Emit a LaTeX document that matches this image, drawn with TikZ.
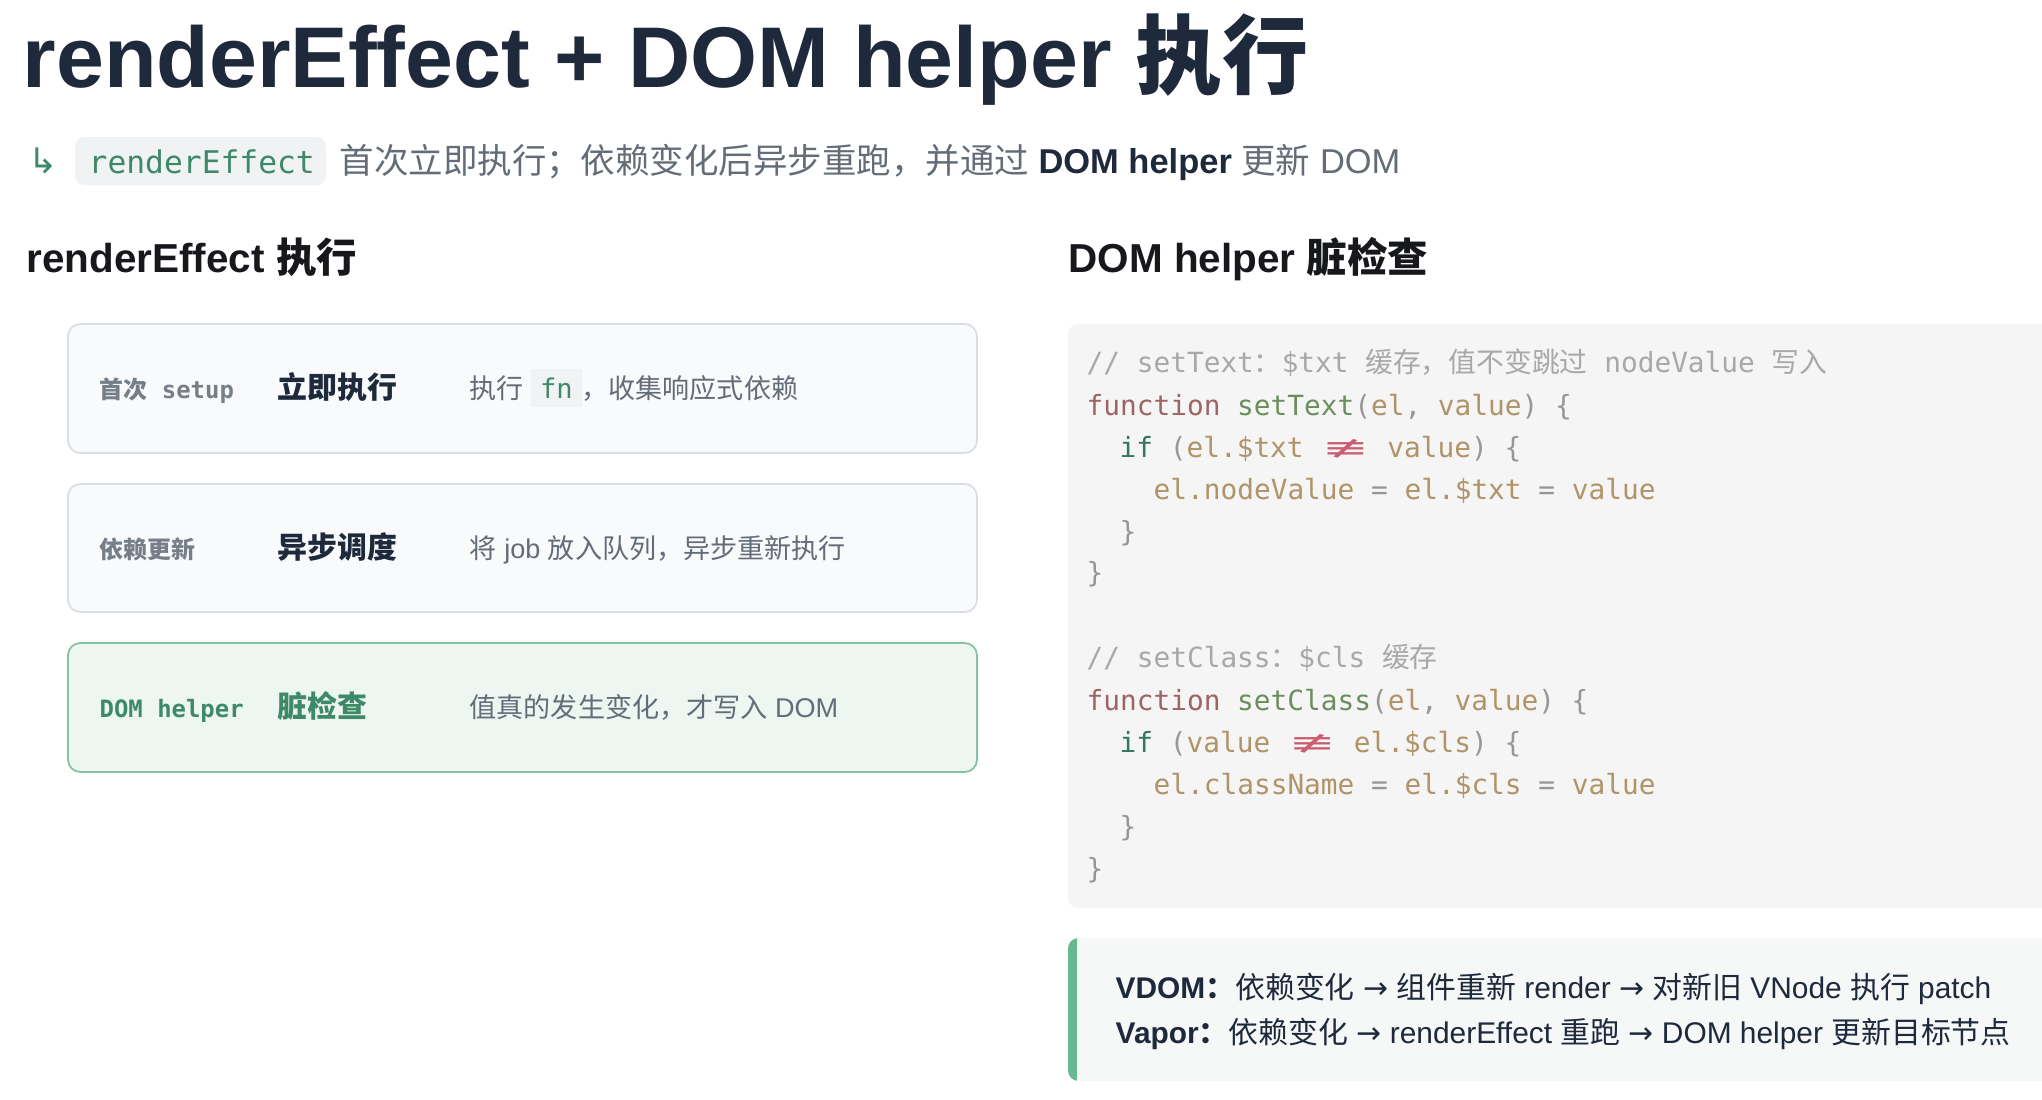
\documentclass[tikz,border=0pt]{standalone}
\usepackage{fontspec}
\setmainfont{Liberation Sans}
\setmonofont{DejaVu Sans Mono}
\newfontfamily\zhfont{Noto Sans CJK SC}
\newfontfamily\symf{DejaVu Sans}
\usepackage{tikz}
\usetikzlibrary{positioning}

\definecolor{TitleInk}{RGB}{30,41,59}
\definecolor{HeadInk}{RGB}{22,24,28}
\definecolor{MutedInk}{RGB}{100,108,120}
\definecolor{LabelInk}{RGB}{118,126,136}
\definecolor{VueGreen}{RGB}{62,138,104}
\definecolor{CardFill}{RGB}{248,250,252}
\definecolor{CardLine}{RGB}{218,222,227}
\definecolor{HotFill}{RGB}{237,246,241}
\definecolor{HotLine}{RGB}{132,194,162}
\definecolor{CodeFill}{RGB}{245,245,245}
\definecolor{PillFill}{RGB}{240,242,243}
\definecolor{NoteFill}{RGB}{246,247,247}
\definecolor{NoteBar}{RGB}{104,184,145}
\definecolor{CodeCmt}{RGB}{168,168,168}
\definecolor{CodeKw}{RGB}{158,100,100}
\definecolor{CodeFn}{RGB}{108,142,92}
\definecolor{CodeVar}{RGB}{176,148,104}
\definecolor{CodeIf}{RGB}{52,118,98}
\definecolor{CodePun}{RGB}{150,150,150}
\definecolor{CodeOp}{RGB}{204,92,112}

\newcommand\zh[1]{{\zhfont #1}}
\newcommand\ar{{\symf →}}
\newcommand\ccm[1]{\textcolor{CodeCmt}{#1}}
\newcommand\ckw[1]{\textcolor{CodeKw}{#1}}
\newcommand\cfun[1]{\textcolor{CodeFn}{#1}}
\newcommand\cvar[1]{\textcolor{CodeVar}{#1}}
\newcommand\cif[1]{\textcolor{CodeIf}{#1}}
\newcommand\cpun[1]{\textcolor{CodePun}{#1}}
\newcommand\cneq{\makebox[14.3pt]{\textcolor{CodeOp}{\scalebox{2.05}[1]{\symf\mdseries ≢}}}}
\newcommand\fnpill{{\setlength\fboxsep{2.5pt}\colorbox{PillFill}{\ttfamily\textcolor{VueGreen}{fn}}}}

\begin{document}
\begin{tikzpicture}[x=0.01cm, y=-0.01cm]
				\tikzstyle{every node}=[anchor=west, inner sep=0pt, text height=0.9em, text depth=0.16em];
				\tikzstyle{card}=[draw=CardLine, fill=CardFill, line width=0.5pt, rounded corners=3.5pt];
				\tikzstyle{hot}=[draw=HotLine, fill=HotFill];
				\tikzstyle{head}=[font=\fontsize{11.5}{14}\selectfont\bfseries, text=HeadInk];
				\tikzstyle{lbl}=[font=\fontsize{6.8}{8}\selectfont\ttfamily\bfseries, text=LabelInk];
				\tikzstyle{act}=[font=\fontsize{8.5}{10}\selectfont\bfseries, text=TitleInk];
				\tikzstyle{desc}=[font=\fontsize{7.7}{9}\selectfont, text=MutedInk];
				\tikzstyle{code}=[font=\fontsize{7.9}{9.5}\selectfont\ttfamily];
				\tikzstyle{note}=[font=\fontsize{8.5}{10}\selectfont, text=TitleInk];
				\fill[white] (0,0) rectangle (2042,1100);
				\useasboundingbox (0,0) rectangle (2042,1100);
				\node [font=\fontsize{24.5}{28}\selectfont\bfseries, text=TitleInk] (title) at (22,74) {renderEffect + DOM helper \zh{执行}};
				\node [font=\fontsize{10}{12}\selectfont\symf, text=VueGreen] (sarr) at (28,160) {↳};
				\fill[PillFill, rounded corners=2.5pt] (75,137) rectangle (326,185);
				\node [font=\fontsize{8.9}{11}\selectfont\ttfamily, text=VueGreen] (spill) at (88,160) {renderEffect};
				\node [font=\fontsize{9.8}{12}\selectfont, text=MutedInk] (sub) at (339,160) {\zh{首次立即执行；依赖变化后异步重跑，并通过} \textcolor{TitleInk}{\bfseries DOM helper} \zh{更新} DOM};
				\node [head] (hleft) at (26,259) {renderEffect \zh{执行}};
				\node [head] (hright) at (1068,259) {DOM helper \zh{脏检查}};
				\draw[card] (68,324) rectangle (977,453);
				\draw[card] (68,484) rectangle (977,612);
				\draw[card, hot] (68,643) rectangle (977,772);
				\node [lbl] (k1) at (99,385) {\zh{首次} setup};
				\node [act] (a1) at (277,385) {\zh{立即执行}};
				\node [desc] (d1) at (469,385) {\zh{执行} \fnpill\zh{，收集响应式依赖}};
				\node [lbl] (k2) at (99,545) {\zh{依赖更新}};
				\node [act] (a2) at (277,545) {\zh{异步调度}};
				\node [desc] (d2) at (469,545) {\zh{将} job \zh{放入队列，异步重新执行}};
				\node [lbl, text=VueGreen] (k3) at (99,704) {DOM helper};
				\node [act, text=VueGreen] (a3) at (277,704) {\zh{脏检查}};
				\node [desc] (d3) at (469,704) {\zh{值真的发生变化，才写入} DOM};
				\fill[CodeFill, rounded corners=3pt] (1068,324) rectangle (2070,908);
				\node [code] (l01) at (1086,359) {\ccm{// setText\zh{：}\$txt \zh{缓存，值不变跳过} nodeValue \zh{写入}}};
				\node [code] (l02) at (1086,402) {\ckw{function} \cfun{setText}\cpun{(}\cvar{el}\cpun{,} \cvar{value}\cpun{) \{}};
				\node [code] (l03) at (1119,444) {\cif{if} \cpun{(}\cvar{el.\$txt} \cneq{} \cvar{value}\cpun{) \{}};
				\node [code] (l04) at (1153,486) {\cvar{el.nodeValue} \cpun{=} \cvar{el.\$txt} \cpun{=} \cvar{value}};
				\node [code] (l05) at (1119,528) {\cpun{\}}};
				\node [code] (l06) at (1086,569) {\cpun{\}}};
				\node [code] (l07) at (1086,654) {\ccm{// setClass\zh{：}\$cls \zh{缓存}}};
				\node [code] (l08) at (1086,697) {\ckw{function} \cfun{setClass}\cpun{(}\cvar{el}\cpun{,} \cvar{value}\cpun{) \{}};
				\node [code] (l09) at (1119,739) {\cif{if} \cpun{(}\cvar{value} \cneq{} \cvar{el.\$cls}\cpun{) \{}};
				\node [code] (l10) at (1153,781) {\cvar{el.className} \cpun{=} \cvar{el.\$cls} \cpun{=} \cvar{value}};
				\node [code] (l11) at (1119,823) {\cpun{\}}};
				\node [code] (l12) at (1086,865) {\cpun{\}}};
				\begin{scope}
					\clip[rounded corners=3pt] (1068,938) rectangle (2070,1081);
					\fill[NoteFill] (1068,938) rectangle (2070,1081);
					\fill[NoteBar] (1068,938) rectangle (1077,1081);
				\end{scope}
				\node [note] (vdom) at (1115,985) {\textbf{VDOM\zh{：}}\zh{依赖变化} \ar{} \zh{组件重新} render \ar{} \zh{对新旧} VNode \zh{执行} patch};
				\node [note] (vapor) at (1115,1030) {\textbf{Vapor\zh{：}}\zh{依赖变化} \ar{} renderEffect \zh{重跑} \ar{} DOM helper \zh{更新目标节点}};
			\end{tikzpicture}
\end{document}
